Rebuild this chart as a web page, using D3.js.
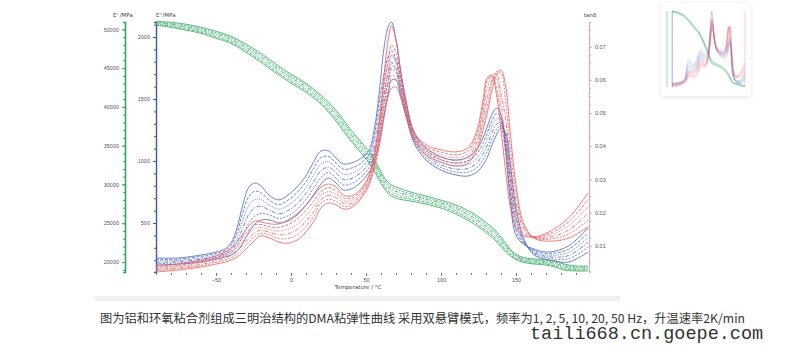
<!DOCTYPE html>
<html>
<head>
<meta charset="utf-8">
<script src="https://cdn.jsdelivr.net/npm/d3@7/dist/d3.min.js"></script>
<style>
body { margin: 0; background: #fff; }
svg { display: block; font-family: "DejaVu Sans", sans-serif; }
</style>
</head>
<body>
<svg id="chart" width="800" height="348"></svg>
<script>
// temperature grid (°C) shared by E'' and tan delta curves
var temps = [-90, -75, -60, -50, -44, -40, -36, -32, -28, -24, -20, -14, -8, -2, 4, 10, 15, 20, 25, 30,
    35, 40, 46, 52, 56, 59, 62, 65, 67, 70, 73, 77, 82, 90, 100, 110, 118, 124, 128, 131,
    134, 137, 140, 143, 146, 150, 155, 162, 172, 185, 198];

// temperature grid for E'
var tempsStorage = [-90, -80, -70, -60, -50, -40, -30, -20, -10, 0, 10, 20, 30, 40, 48, 54, 58, 62, 66, 72,
    80, 90, 100, 110, 120, 128, 136, 142, 148, 154, 162, 170, 176, 182, 190, 198];

var freqs = ["1 Hz", "2 Hz", "5 Hz", "10 Hz", "20 Hz", "50 Hz"];

// storage modulus E' / MPa
var storage1 = [50520, 50260, 49880, 49490, 48840, 48200, 47040, 45750, 44340, 43050, 41890, 40350, 38160, 35580, 33780, 32230, 30820, 29530, 28630, 28110,
    27860, 27470, 26950, 26180, 25150, 24120, 22830, 21550, 20520, 20000, 19740, 19610, 19360, 18970, 18840, 18840];
var storage2 = [50620, 50390, 50030, 49640, 49020, 48380, 47250, 45980, 44570, 43280, 42120, 40580, 38440, 35860, 34060, 32540, 31130, 29810, 28910, 28390,
    28090, 27680, 27160, 26410, 25410, 24380, 23090, 21780, 20670, 20130, 19870, 19740, 19510, 19120, 18970, 18970];
var storage5 = [50720, 50520, 50190, 49800, 49200, 48560, 47450, 46210, 44800, 43510, 42350, 40810, 38720, 36150, 34350, 32850, 31440, 30100, 29190, 28680,
    28320, 27880, 27360, 26640, 25670, 24640, 23350, 22010, 20830, 20260, 20000, 19870, 19670, 19280, 19100, 19100];
var storage10 = [50830, 50640, 50340, 49950, 49390, 48740, 47660, 46450, 45040, 43750, 42590, 41040, 39010, 36430, 34630, 33160, 31740, 30380, 29480, 28960,
    28550, 28090, 27570, 26880, 25920, 24890, 23600, 22240, 20980, 20380, 20130, 20000, 19820, 19430, 19230, 19230];
var storage20 = [50930, 50770, 50500, 50110, 49570, 48920, 47860, 46680, 45270, 43980, 42820, 41270, 39290, 36720, 34920, 33470, 32050, 30670, 29760, 29250,
    28780, 28290, 27770, 27110, 26180, 25150, 23860, 22470, 21140, 20510, 20260, 20130, 19980, 19590, 19360, 19360];
var storage50 = [51030, 50900, 50650, 50260, 49750, 49100, 48070, 46910, 45500, 44210, 43050, 41500, 39570, 37000, 35200, 33780, 32360, 30950, 30040, 29530,
    29010, 28500, 27980, 27340, 26440, 25410, 24120, 22700, 21290, 20640, 20390, 20260, 20130, 19740, 19490, 19490];

// loss modulus E'' / MPa
var loss1 = [218, 218, 242, 266, 290, 339, 460, 653, 790, 823, 798, 718, 686, 726, 790, 879, 992, 1081, 1081, 1024,
    976, 984, 1016, 1089, 1290, 1573, 1911, 2089, 2121, 1976, 1734, 1468, 1234, 1105, 1032, 1008, 1032, 1097, 1186, 1282,
    1379, 1427, 1371, 1100, 700, 400, 330, 290, 266, 315, 460];
var loss2 = [207, 208, 231, 255, 277, 320, 423, 590, 717, 757, 743, 679, 649, 684, 745, 832, 939, 1028, 1037, 984,
    934, 942, 977, 1053, 1237, 1492, 1700, 1850, 1890, 1820, 1680, 1440, 1216, 1086, 1011, 984, 1001, 1060, 1142, 1232,
    1329, 1384, 1350, 1130, 760, 440, 335, 280, 253, 289, 421];
var loss5 = [195, 198, 219, 244, 264, 300, 386, 527, 645, 691, 688, 640, 612, 642, 700, 785, 886, 975, 994, 944,
    892, 900, 939, 1018, 1184, 1411, 1620, 1790, 1850, 1790, 1640, 1415, 1198, 1066, 990, 960, 971, 1023, 1099, 1182,
    1279, 1340, 1329, 1160, 820, 480, 345, 271, 240, 263, 382];
var loss10 = [184, 189, 208, 232, 252, 281, 348, 465, 572, 624, 634, 602, 574, 600, 655, 739, 832, 921, 950, 903,
    850, 858, 900, 982, 1130, 1331, 1540, 1720, 1795, 1750, 1600, 1390, 1180, 1047, 969, 935, 940, 985, 1055, 1132,
    1229, 1297, 1308, 1180, 880, 520, 355, 261, 228, 237, 344];
var loss20 = [172, 179, 196, 221, 239, 262, 311, 402, 500, 558, 579, 563, 537, 558, 610, 692, 779, 868, 907, 863,
    808, 816, 862, 947, 1077, 1250, 1460, 1650, 1740, 1710, 1570, 1370, 1162, 1027, 948, 911, 910, 948, 1012, 1082,
    1179, 1253, 1287, 1210, 940, 570, 365, 252, 215, 211, 305];
var loss50 = [161, 169, 185, 210, 226, 242, 274, 339, 427, 492, 524, 524, 500, 516, 565, 645, 726, 815, 863, 823,
    766, 774, 823, 911, 1024, 1169, 1371, 1556, 1653, 1653, 1532, 1347, 1145, 1008, 927, 887, 879, 911, 968, 1032,
    1129, 1210, 1266, 1230, 1000, 620, 380, 242, 202, 185, 266];

// loss factor tan delta
var tanD1 = [0.0039, 0.0045, 0.0057, 0.0069, 0.0081, 0.0093, 0.0111, 0.0136, 0.0160, 0.0175, 0.0172, 0.0166, 0.0166, 0.0178, 0.0196, 0.0223, 0.0250, 0.0277, 0.0286, 0.0277,
    0.0253, 0.0250, 0.0268, 0.0313, 0.0389, 0.0479, 0.0614, 0.0726, 0.0762, 0.0720, 0.0630, 0.0524, 0.0443, 0.0404, 0.0389, 0.0383, 0.0395, 0.0449, 0.0539, 0.0608,
    0.0611, 0.0554, 0.0449, 0.0328, 0.0223, 0.0154, 0.0130, 0.0127, 0.0142, 0.0184, 0.0259];
var tanD2 = [0.0035, 0.0041, 0.0053, 0.0064, 0.0075, 0.0086, 0.0102, 0.0125, 0.0148, 0.0163, 0.0164, 0.0157, 0.0155, 0.0164, 0.0180, 0.0207, 0.0234, 0.0264, 0.0275, 0.0266,
    0.0245, 0.0243, 0.0262, 0.0307, 0.0380, 0.0464, 0.0588, 0.0665, 0.0705, 0.0680, 0.0615, 0.0516, 0.0438, 0.0398, 0.0382, 0.0374, 0.0386, 0.0437, 0.0521, 0.0600,
    0.0615, 0.0575, 0.0485, 0.0379, 0.0268, 0.0180, 0.0138, 0.0126, 0.0136, 0.0172, 0.0239];
var tanD5 = [0.0032, 0.0038, 0.0049, 0.0059, 0.0069, 0.0079, 0.0093, 0.0114, 0.0136, 0.0152, 0.0155, 0.0149, 0.0144, 0.0150, 0.0164, 0.0191, 0.0219, 0.0252, 0.0263, 0.0255,
    0.0236, 0.0236, 0.0256, 0.0301, 0.0371, 0.0449, 0.0562, 0.0630, 0.0675, 0.0655, 0.0598, 0.0508, 0.0433, 0.0392, 0.0374, 0.0366, 0.0377, 0.0425, 0.0503, 0.0575,
    0.0610, 0.0600, 0.0521, 0.0430, 0.0313, 0.0206, 0.0146, 0.0125, 0.0131, 0.0160, 0.0218];
var tanD10 = [0.0028, 0.0034, 0.0044, 0.0055, 0.0063, 0.0071, 0.0084, 0.0103, 0.0123, 0.0140, 0.0147, 0.0140, 0.0133, 0.0136, 0.0149, 0.0174, 0.0203, 0.0239, 0.0252, 0.0245,
    0.0228, 0.0228, 0.0250, 0.0295, 0.0361, 0.0434, 0.0537, 0.0600, 0.0645, 0.0630, 0.0582, 0.0501, 0.0429, 0.0385, 0.0367, 0.0357, 0.0367, 0.0413, 0.0485, 0.0550,
    0.0600, 0.0620, 0.0558, 0.0482, 0.0359, 0.0231, 0.0153, 0.0125, 0.0125, 0.0147, 0.0198];
var tanD20 = [0.0025, 0.0031, 0.0040, 0.0050, 0.0057, 0.0064, 0.0075, 0.0092, 0.0111, 0.0129, 0.0138, 0.0132, 0.0122, 0.0122, 0.0133, 0.0158, 0.0188, 0.0227, 0.0240, 0.0234,
    0.0219, 0.0221, 0.0244, 0.0289, 0.0352, 0.0419, 0.0511, 0.0575, 0.0614, 0.0605, 0.0565, 0.0493, 0.0424, 0.0379, 0.0359, 0.0349, 0.0358, 0.0401, 0.0467, 0.0524,
    0.0590, 0.0625, 0.0620, 0.0533, 0.0404, 0.0257, 0.0161, 0.0124, 0.0120, 0.0135, 0.0177];
var tanD50 = [0.0021, 0.0027, 0.0036, 0.0045, 0.0051, 0.0057, 0.0066, 0.0081, 0.0099, 0.0117, 0.0130, 0.0123, 0.0111, 0.0108, 0.0117, 0.0142, 0.0172, 0.0214, 0.0229, 0.0223,
    0.0211, 0.0214, 0.0238, 0.0283, 0.0343, 0.0404, 0.0485, 0.0554, 0.0575, 0.0578, 0.0548, 0.0485, 0.0419, 0.0373, 0.0352, 0.0340, 0.0349, 0.0389, 0.0449, 0.0503,
    0.0569, 0.0614, 0.0630, 0.0584, 0.0449, 0.0283, 0.0169, 0.0123, 0.0114, 0.0123, 0.0157];

var xTicks = [-50, 0, 50, 100, 150];
var storageTicks = [20000, 25000, 30000, 35000, 40000, 45000, 50000];
var lossTicks = [500, 1000, 1500, 2000];
var tanTicks = [0.01, 0.02, 0.03, 0.04, 0.05, 0.06, 0.07];

var caption = "图为铝和环氧粘合剂组成三明治结构的DMA粘弹性曲线 采用双悬臂模式，频率为1, 2, 5, 10, 20, 50 Hz，升温速率2K/min";
var watermark = "taili668.cn.goepe.com";

var storageSeries = [storage1, storage2, storage5, storage10, storage20, storage50];
var lossSeries = [loss1, loss2, loss5, loss10, loss20, loss50];
var tanSeries = [tanD1, tanD2, tanD5, tanD10, tanD20, tanD50];
var dashes = [null, "3,1.5", "1,1.2", "4,1.5,1,1.5", "2,1.5", null];

var green = "#2fa860", blue = "#4d68c0", red = "#ee5c5e";

var svg = d3.select("#chart");

var plotTop = 22, plotBottom = 272;

var x = d3.scaleLinear().domain([-50, 150]).range([216, 516]);

function stretch(s) {
    // widen the scale so the axis line runs over the whole plot height
    return s.copy().domain([s.invert(plotBottom), s.invert(plotTop)]).range([plotBottom, plotTop]);
}
var yG = stretch(d3.scaleLinear().domain([20000, 50000]).range([262, 29.3]));
var yB = stretch(d3.scaleLinear().domain([0, 2000]).range([285, 37]));
var yR = stretch(d3.scaleLinear().domain([0, 0.07]).range([279, 46.6]));

function range(a, b, step) {
    var out = [];
    for (var v = a; v <= b + 1e-9; v += step) out.push(+v.toFixed(6));
    return out;
}

// drop shadow for the thumbnail card
var defs = svg.append("defs");
var f = defs.append("filter").attr("id", "shadow").attr("x", "-10%").attr("y", "-10%").attr("width", "120%").attr("height", "120%");
f.append("feDropShadow").attr("dx", 0).attr("dy", 1).attr("stdDeviation", 2).attr("flood-color", "#000").attr("flood-opacity", 0.1);

// bottom edge of the main card
svg.append("rect").attr("x", 95).attr("y", 296).attr("width", 525).attr("height", 5).attr("fill", "#efefef");

function drawCurves(g, thin) {
    var families = [
        {t: tempsStorage, series: storageSeries, y: yG, color: green},
        {t: temps, series: lossSeries, y: yB, color: blue},
        {t: temps, series: tanSeries, y: yR, color: red}
    ];
    families.forEach(function (fam) {
        var line = d3.line()
            .x(function (d) { return x(d[0]); })
            .y(function (d) { return fam.y(d[1]); })
            .curve(d3.curveCatmullRom.alpha(0.5));
        g.append("g").selectAll("path")
            .data(fam.series)
            .join("path")
            .attr("d", function (s) { return line(s.map(function (v, i) { return [fam.t[i], v]; })); })
            .attr("fill", "none")
            .attr("stroke", fam.color)
            .attr("stroke-width", thin ? 0.35 : 0.9)
            .attr("stroke-opacity", thin ? 0.6 : 0.9)
            .attr("stroke-dasharray", function (s, i) { return thin ? null : dashes[i]; })
            .attr("vector-effect", thin ? "non-scaling-stroke" : null);
    });
}

function styleAxis(g, color, width) {
    g.select(".domain").attr("stroke", color).attr("stroke-width", width);
    g.selectAll(".tick line").attr("stroke", color);
    g.selectAll(".tick text").attr("fill", "#555").attr("font-size", "5.5px");
}

// green E' axis
var gG = svg.append("g").attr("transform", "translate(125,0)");
gG.call(d3.axisLeft(yG).tickValues(range(19000, 50000, 1000)).tickSize(2).tickFormat(""))
    .call(styleAxis, green, 1.6);
gG.append("g").call(d3.axisLeft(yG).tickValues(storageTicks).tickSize(3).tickPadding(3).tickFormat(d3.format("d")))
    .call(function (g) { g.select(".domain").remove(); })
    .call(styleAxis, green, 1.6);

// blue E'' axis
var gB = svg.append("g").attr("transform", "translate(156,0)");
gB.call(d3.axisLeft(yB).tickValues(range(200, 2100, 100)).tickSize(2).tickFormat(""))
    .call(styleAxis, "#4058a8", 1.4);
gB.append("g").call(d3.axisLeft(yB).tickValues(lossTicks).tickSize(3).tickPadding(3).tickFormat(d3.format("d")))
    .call(function (g) { g.select(".domain").remove(); })
    .call(styleAxis, "#4058a8", 1.4);

// red tan delta axis
var gR = svg.append("g").attr("transform", "translate(589,0)");
gR.call(d3.axisRight(yR).tickValues(range(0.0025, 0.0775, 0.0025)).tickSize(2).tickFormat(""))
    .call(styleAxis, "#f2a2a2", 1);
gR.append("g").call(d3.axisRight(yR).tickValues(tanTicks).tickSize(3).tickPadding(3).tickFormat(d3.format(".2f")))
    .call(function (g) { g.select(".domain").remove(); })
    .call(styleAxis, "#f2a2a2", 1);

// temperature axis
var gX = svg.append("g").attr("transform", "translate(0,273)");
gX.call(d3.axisBottom(x).tickValues(range(-90, 190, 10)).tickSize(2).tickFormat(""))
    .call(styleAxis, "#777", 0);
gX.select(".domain").remove();
gX.append("g").call(d3.axisBottom(x).tickValues(xTicks).tickSize(3).tickPadding(2))
    .call(function (g) { g.select(".domain").remove(); })
    .call(styleAxis, "#777", 0);

// axis titles
var titles = svg.append("g").attr("font-size", "5.5px").attr("fill", "#444");
titles.append("text").attr("x", 113).attr("y", 17).text("E' /MPa");
titles.append("text").attr("x", 156).attr("y", 17).text("E''/MPa");
titles.append("text").attr("x", 584).attr("y", 17).text("tanδ");
titles.append("text").attr("x", 358).attr("y", 289).attr("text-anchor", "middle").text("Temperature / °C");

drawCurves(svg.append("g"), false);

// thumbnail copy in the top right corner
svg.append("rect").attr("x", 661).attr("y", 3).attr("width", 90).attr("height", 93)
    .attr("fill", "#fff").attr("filter", "url(#shadow)");
var thumb = svg.append("g").attr("transform", "translate(646,4.3) scale(0.168,0.304)");
[[125, green], [156, "#4058a8"], [589, "#f2a2a2"]].forEach(function (a) {
    thumb.append("line").attr("x1", a[0]).attr("x2", a[0]).attr("y1", plotTop).attr("y2", plotBottom)
        .attr("stroke", a[1]).attr("stroke-width", 0.5).attr("vector-effect", "non-scaling-stroke");
});
drawCurves(thumb, true);

// caption and watermark
svg.append("text").attr("x", 100).attr("y", 323)
    .attr("font-family", "'Noto Sans CJK SC', sans-serif").attr("font-size", "12px")
    .attr("fill", "#333").attr("textLength", 645).attr("lengthAdjust", "spacingAndGlyphs")
    .text(caption);
svg.append("text").attr("x", 530).attr("y", 339)
    .attr("font-family", "'Liberation Mono', monospace").attr("font-size", "18.5px")
    .attr("fill", "#333").text(watermark);
</script>
</body>
</html>
